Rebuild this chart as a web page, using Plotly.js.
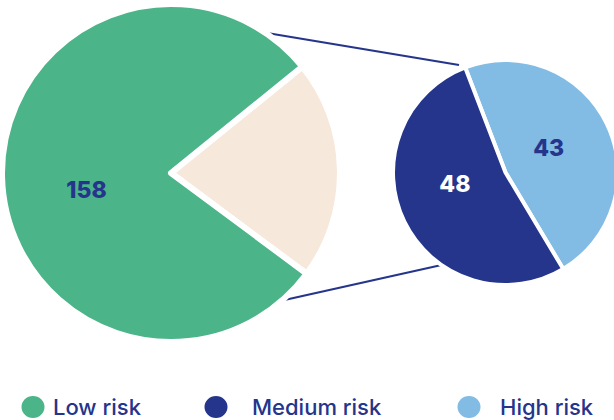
<!DOCTYPE html>
<html>
<head>
<meta charset="utf-8">
<script src="https://cdn.plot.ly/plotly-3.0.1.min.js"></script>
<style>
  html, body { margin: 0; padding: 0; background: #ffffff; overflow: hidden; width: 614px; height: 420px; }
  #chart { width: 618px; height: 420px; }
</style>
</head>
<body>
<div id="chart"></div>
<script>
// ---- data ----
var mainLabels = ["Other", "Low risk"];
var mainValues = [42, 158];
var mainColors = ["#F7E8DC", "#4BB489"];

var subLabels = ["High risk", "Medium risk"];
var subValues = [43, 48];
var subColors = ["#82BBE3", "#24358B"];

var legendLabels = ["Low risk", "Medium risk", "High risk"];
var legendColors = ["#4BB489", "#24358B", "#82BBE3"];

// ---- layout helpers ----
var W = 618, H = 420;
function px(x) { return x / W; }
function py(y) { return 1 - y / H; }

var navy = "#24358B";
var labelFont = "Inter, 'Noto Sans', sans-serif";

var mainTrace = {
  type: "pie",
  labels: mainLabels,
  values: mainValues,
  sort: false,
  direction: "clockwise",
  rotation: 51,
  marker: { colors: mainColors, line: { color: "#ffffff", width: 6 } },
  // a blank first line lowers the number inside the large slice
  text: mainValues.map(function (v, i) { return i === 0 ? "" : "&nbsp;<br>" + v; }),
  textinfo: "text",
  textposition: "inside",
  insidetextorientation: "horizontal",
  textfont: { family: labelFont, size: 23, color: [navy, navy], weight: 800 },
  hoverinfo: "label+value",
  showlegend: false,
  domain: { x: [px(2), px(340)], y: [py(342), py(4)] }
};

// padding strings nudge the labels toward the pie centre
var subPad = ["&nbsp;&nbsp;&nbsp;", ""];
var subTrace = {
  type: "pie",
  labels: subLabels,
  values: subValues,
  sort: false,
  direction: "clockwise",
  rotation: -21,
  marker: { colors: subColors, line: { color: "#ffffff", width: 4 } },
  text: subValues.map(function (v, i) { return i === 0 ? v + subPad[0] : v + "<br><span style='font-size:9px'>&nbsp;</span>"; }),
  textinfo: "text",
  textposition: "inside",
  insidetextorientation: "horizontal",
  textfont: { family: labelFont, size: 23, color: [navy, "#ffffff"], weight: 800 },
  hoverinfo: "label+value",
  showlegend: false,
  domain: { x: [px(393), 1], y: [py(285), py(60)] }
};

var shapes = [
  { type: "line", xref: "paper", yref: "paper", x0: px(255), y0: py(31), x1: px(459), y1: py(65),
    line: { color: navy, width: 2.2 }, layer: "below" },
  { type: "line", xref: "paper", yref: "paper", x0: px(271), y0: py(303), x1: px(446), y1: py(264),
    line: { color: navy, width: 2.2 }, layer: "below" }
];

var legendCircleX = [33, 216, 469];
var legendTextX = [51, 250, 498];
var legendY = 407;
var annotations = [];
legendLabels.forEach(function (lab, i) {
  shapes.push({
    type: "circle", xref: "paper", yref: "paper",
    x0: px(legendCircleX[i] - 11.5), x1: px(legendCircleX[i] + 11.5),
    y0: py(legendY + 11), y1: py(legendY - 11),
    fillcolor: legendColors[i], line: { width: 0 }
  });
  annotations.push({
    xref: "paper", yref: "paper", x: px(legendTextX[i]), y: py(legendY),
    xanchor: "left", yanchor: "middle", showarrow: false,
    text: lab, font: { family: "Inter, 'Noto Sans', sans-serif", size: 22, color: navy, weight: 500 }
  });
});

var layout = {
  width: W, height: H,
  margin: { l: 0, r: 0, t: 0, b: 0 },
  paper_bgcolor: "#ffffff",
  showlegend: false,
  shapes: shapes,
  annotations: annotations
};

Plotly.newPlot("chart", [mainTrace, subTrace], layout, { displayModeBar: false, staticPlot: true });
</script>
</body>
</html>
